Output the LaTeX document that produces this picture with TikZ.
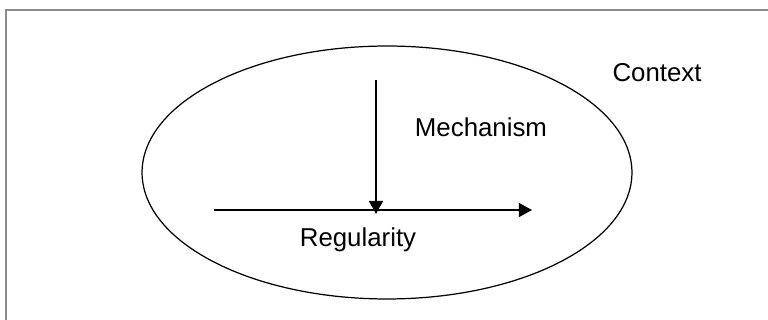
\documentclass[tikz,border=0pt]{standalone}
\usepackage{fontspec}
\setmainfont{Liberation Sans}
\usetikzlibrary{shapes,arrows.meta,positioning}

\begin{document}
\begin{tikzpicture}[
    x=0.02cm, y=-0.02cm,
    frame/.style={draw=black!45, line width=1.1pt},
    context/.style={draw, ellipse, minimum width=9.8cm, minimum height=5.06cm, line width=0.7pt, inner sep=0pt},
    label/.style={font=\fontsize{14.7}{17}\selectfont, inner sep=0pt},
    edge/.style={-{Triangle[length=7.5pt,width=8pt]}, line width=0.85pt},
]

\useasboundingbox (0,0) rectangle (768,320);

% Frame
\coordinate (fbottom) at (6,320);
\coordinate (fright) at (768,10);
\draw[frame] (fbottom) |- (fright);

% Context ellipse
\node[context] (ctx) at (387,172.5) {};
\node[label] (ctxlabel) at (657,72.5) {Context};

% Mechanism
\coordinate (mtop) at (376,80);
\coordinate (mend) at (376,214);
\node[label] (mech) at (481,127.5) {Mechanism};

% Regularity
\coordinate (rstart) at (214,210);
\coordinate (rend) at (532,210);
\node[label] (reg) at (358,240) {Regularity};

% Edges
\draw[edge] (rstart) -- (rend);
\draw[edge] (mtop) -- (mend);

\end{tikzpicture}
\end{document}
